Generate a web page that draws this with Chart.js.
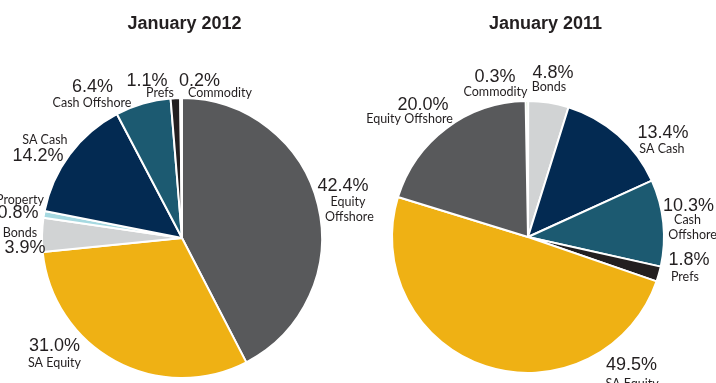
<!DOCTYPE html>
<html>
<head>
<meta charset="utf-8">
<script src="https://cdn.jsdelivr.net/npm/chart.js@4"></script>
<style>
  body { margin: 0; background: #fff; }
  #wrap { position: relative; width: 716px; height: 383px; overflow: hidden; }
  #wrap canvas { position: absolute; left: 0; top: 0; }
</style>
</head>
<body>
<div id="wrap">
  <canvas id="pie2012" width="716" height="383"></canvas>
  <canvas id="pie2011" width="716" height="383"></canvas>
</div>
<script>
// January 2012 (clockwise from 12 o'clock)
const labels2012 = ['Equity Offshore', 'SA Equity', 'Bonds', 'Property', 'SA Cash', 'Cash Offshore', 'Prefs', 'Commodity'];
const values2012 = [42.4, 31.0, 3.9, 0.8, 14.2, 6.4, 1.1, 0.2];

// January 2011 (clockwise from 12 o'clock)
const labels2011 = ['Commodity', 'Bonds', 'SA Cash', 'Cash Offshore', 'Prefs', 'SA Equity', 'Equity Offshore'];
const values2011 = [0.3, 4.8, 13.4, 10.3, 1.8, 49.5, 20.0];

// colours per asset class
const colours = {
    'Equity Offshore': '#58595b',
    'SA Equity': '#efb114',
    'Bonds': '#d1d3d4',
    'Property': '#a6d9e1',
    'SA Cash': '#032a52',
    'Cash Offshore': '#1c5a71',
    'Prefs': '#231f20',
    'Commodity': '#5a9f2e'
};

// label placement, in pie radii from the pie centre: v = value line, n = name line(s)
const place2012 = [
    { v: [1.150, -0.368], n: [[1.186, -0.257], [1.196, -0.150]] },
    { v: [-0.911, 0.775], n: [[-0.911, 0.893]] },
    { v: [-1.121, 0.075], n: [[-1.157, -0.036]] },
    { v: [-1.171, -0.175], n: [[-1.157, -0.271]] },
    { v: [-1.029, -0.582], n: [[-0.979, -0.700]] },
    { v: [-0.639, -1.075], n: [[-0.643, -0.964]] },
    { v: [-0.250, -1.121], n: [[-0.157, -1.036]] },
    { v: [0.125, -1.121], n: [[0.271, -1.036]] }
];
const place2011 = [
    { v: [-0.243, -1.173], n: [[-0.239, -1.070]] },
    { v: [0.184, -1.202], n: [[0.154, -1.103]] },
    { v: [0.993, -0.765], n: [[0.985, -0.647]] },
    { v: [1.180, -0.228], n: [[1.173, -0.125], [1.210, -0.015]] },
    { v: [1.184, 0.169], n: [[1.154, 0.294]] },
    { v: [0.761, 0.941], n: [[0.765, 1.080]] },
    { v: [-0.772, -0.974], n: [[-0.871, -0.868]] }
];

const labelPlugin = {
    id: 'pieLabels',
    afterDraw(chart, args, opts) {
        const ctx = chart.ctx;
        const arc = chart.getDatasetMeta(0).data[0];
        const cx = arc.x, cy = arc.y, r = arc.outerRadius;
        const labels = chart.data.labels;
        const values = chart.data.datasets[0].data;
        ctx.save();
        ctx.fillStyle = '#231f20';
        ctx.textAlign = 'center';
        ctx.textBaseline = 'middle';
        // title
        ctx.font = 'bold 18px "Liberation Sans", Arial, sans-serif';
        ctx.fillText(opts.title, opts.titleX, 24);
        opts.place.forEach((p, i) => {
            ctx.font = '18px "Liberation Sans", Arial, sans-serif';
            ctx.fillText(values[i].toFixed(1) + '%', cx + p.v[0] * r, cy + p.v[1] * r);
            ctx.font = '12.5px Lato, "Noto Sans", sans-serif';
            const parts = p.n.length > 1 ? labels[i].split(' ') : [labels[i]];
            p.n.forEach((q, j) => {
                ctx.fillText(parts[j], cx + q[0] * r, cy + q[1] * r);
            });
        });
        ctx.restore();
    }
};

function makePie(id, labels, values, place, title, titleX, padding, rotation) {
    return new Chart(document.getElementById(id), {
        type: 'pie',
        data: {
            labels: labels,
            datasets: [{
                data: values,
                backgroundColor: labels.map(l => colours[l]),
                borderColor: '#ffffff',
                borderWidth: 2
            }]
        },
        options: {
            responsive: false,
            animation: false,
            rotation: rotation,
            layout: { padding: padding },
            plugins: {
                legend: { display: false },
                tooltip: { enabled: false },
                pieLabels: { place: place, title: title, titleX: titleX }
            }
        },
        plugins: [labelPlugin]
    });
}

makePie('pie2012', labels2012, values2012, place2012, 'January 2012', 184.5,
    { left: 41, right: 393, top: 97, bottom: 4 }, 0);
makePie('pie2011', labels2011, values2011, place2011, 'January 2011', 545.5,
    { left: 391, right: 51, top: 100, bottom: 9 }, -1);
</script>
</body>
</html>
